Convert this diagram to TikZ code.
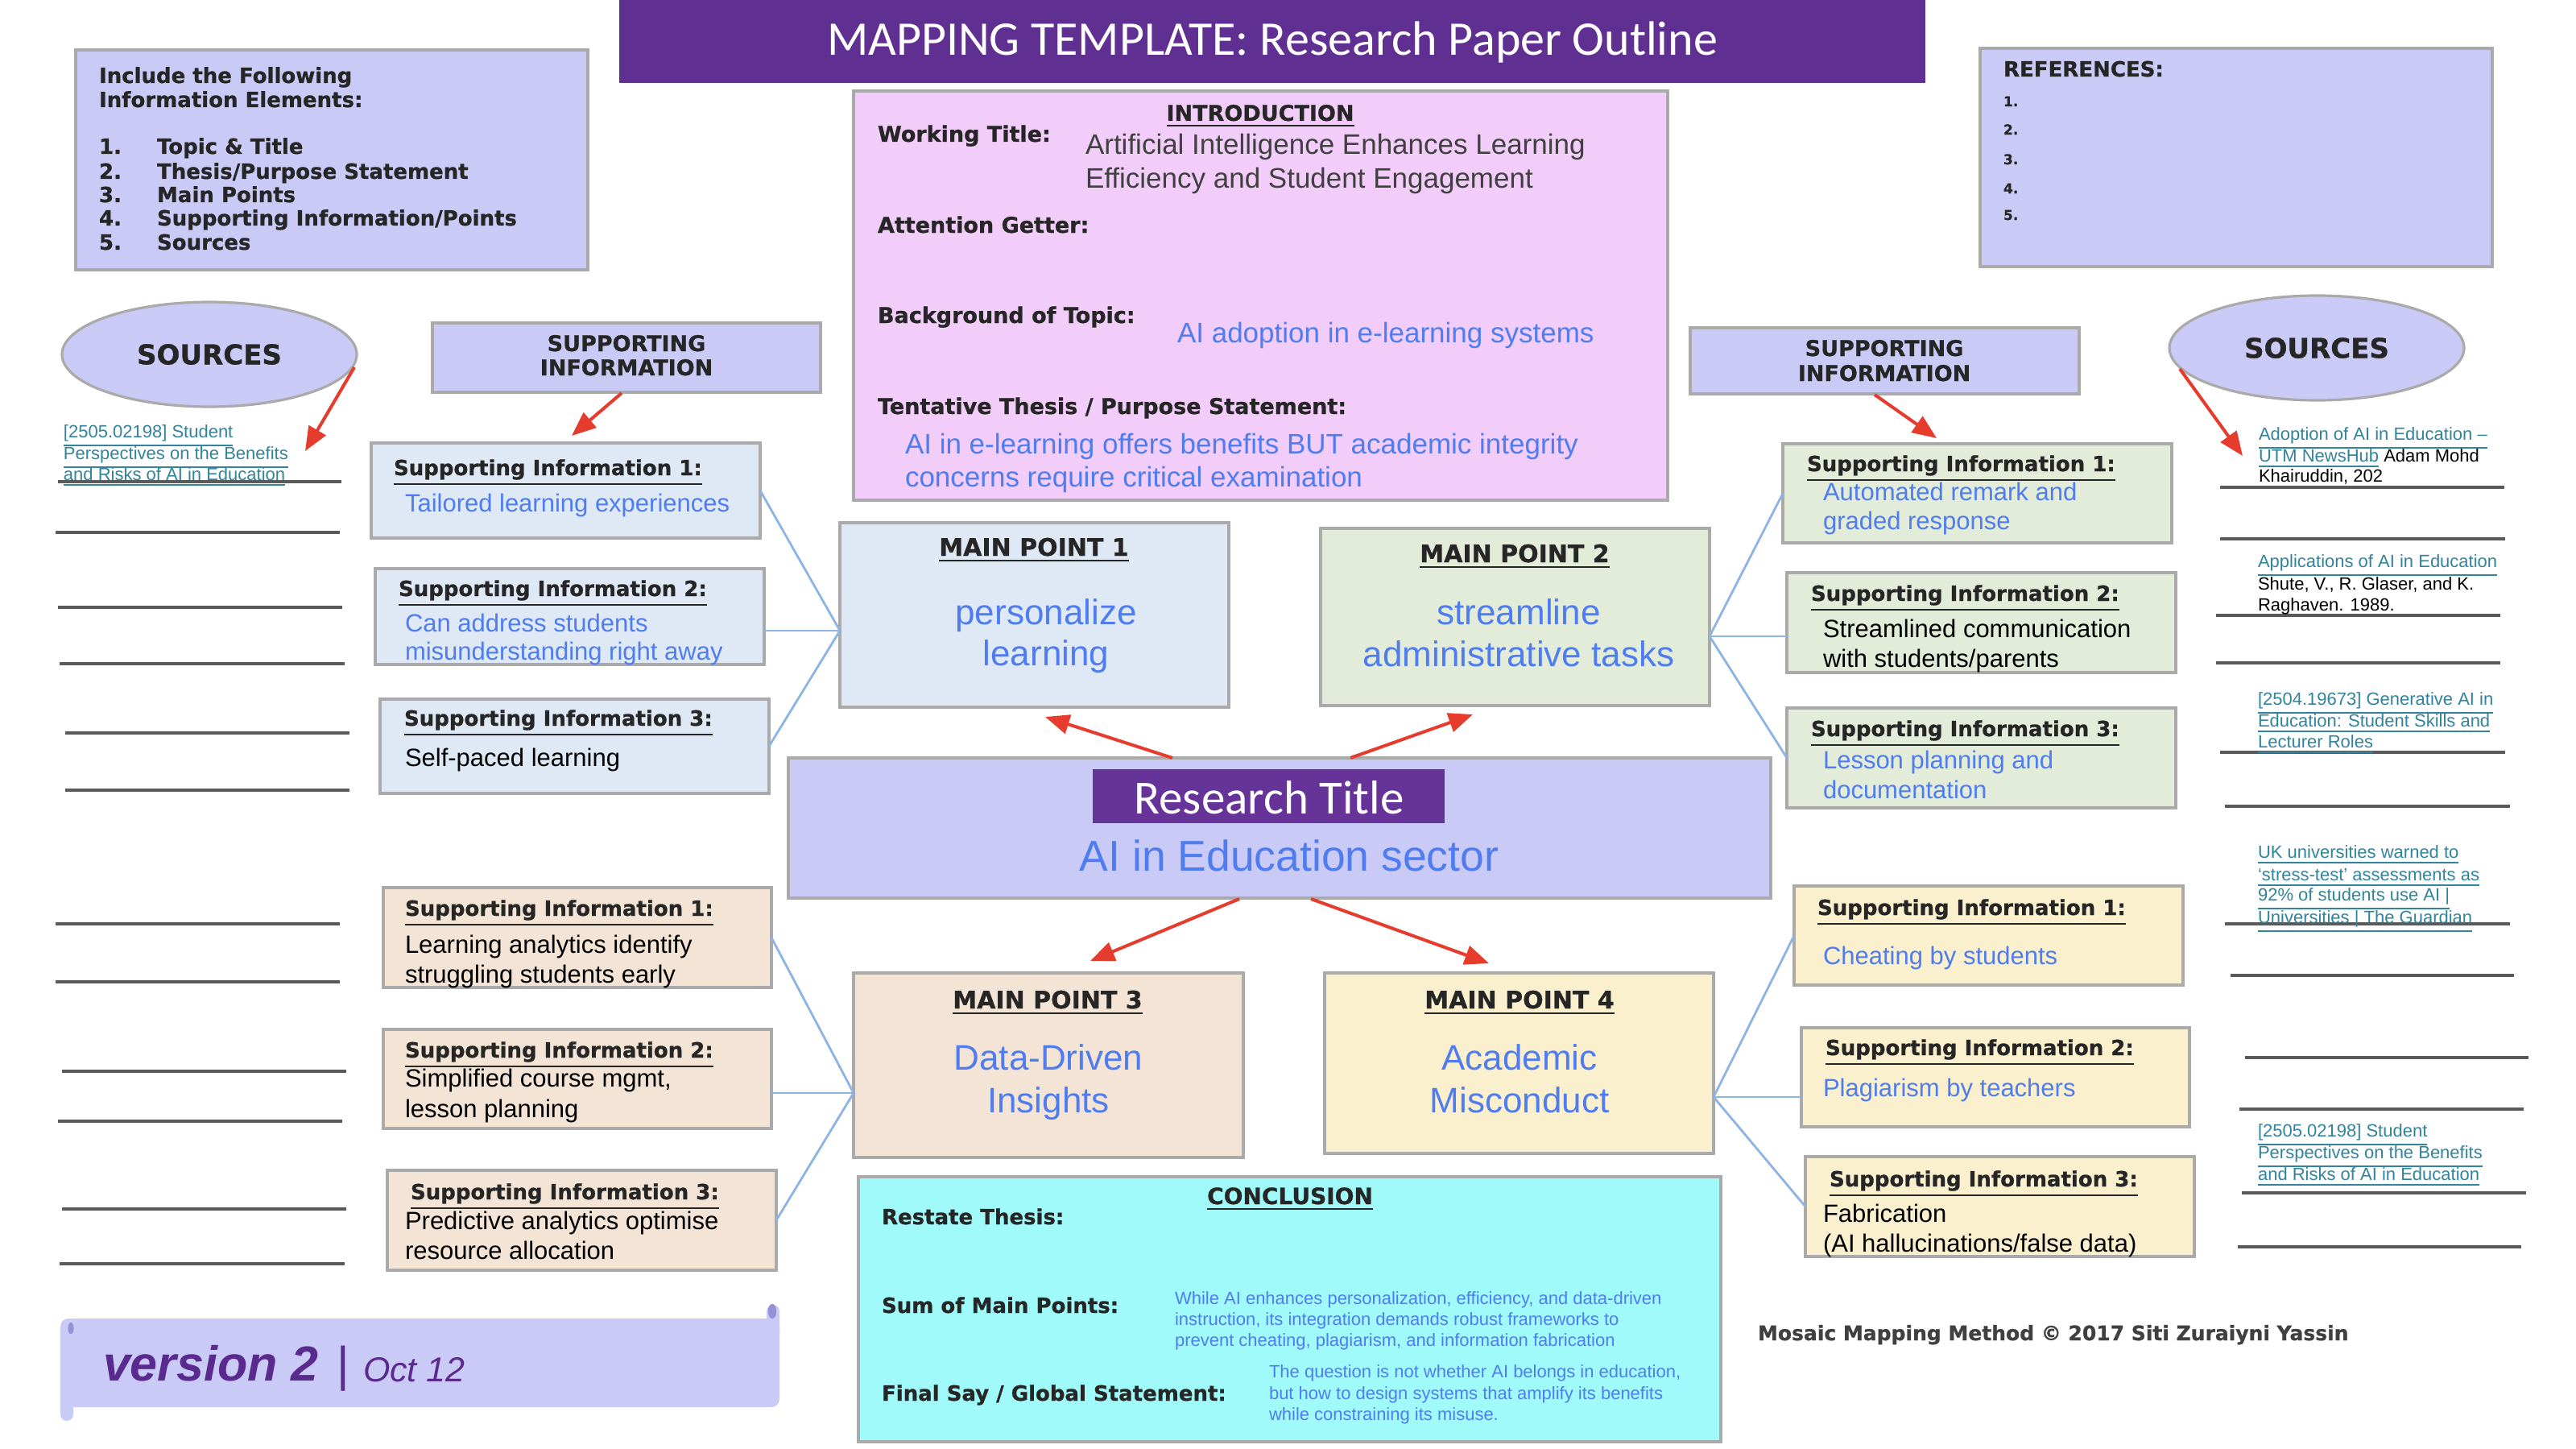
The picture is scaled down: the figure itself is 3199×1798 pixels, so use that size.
\documentclass[tikz,border=0pt]{standalone}
\usepackage{fontspec}
\setmainfont{Liberation Sans}
\newfontfamily\dejavu{DejaVu Sans}[BoldFeatures={FakeBold=0.8}]
\newfontfamily\carlito{Carlito}
\usetikzlibrary{shapes.geometric,arrows.meta,shadows}
\newcommand\fpx[1]{\fontsize{\fpeval{#1/4}pt}{\fpeval{#1*0.3}pt}\selectfont}
\definecolor{lav}{RGB}{202,202,247}
\definecolor{pinkbg}{RGB}{242,205,249}
\definecolor{bluebg}{RGB}{223,232,245}
\definecolor{greenbg}{RGB}{227,236,217}
\definecolor{peachbg}{RGB}{243,228,213}
\definecolor{yellowbg}{RGB}{251,240,206}
\definecolor{cyanbg}{RGB}{160,250,250}
\definecolor{titlepurple}{RGB}{96,47,146}
\definecolor{rtpurple}{RGB}{102,51,153}
\definecolor{txtblue}{RGB}{79,125,240}
\definecolor{linkteal}{RGB}{49,132,155}
\definecolor{arrred}{RGB}{229,60,46}
\definecolor{conblue}{RGB}{142,180,227}
\definecolor{bordgray}{RGB}{170,170,170}
\definecolor{lineg}{RGB}{90,90,90}
\definecolor{darkt}{RGB}{38,38,38}
\definecolor{wtgray}{RGB}{64,64,64}
\definecolor{verpurple}{RGB}{91,42,142}
\definecolor{curl}{RGB}{150,144,212}
\newcommand\bx[7]{\node[bxs,#2,minimum width={(#5-#3)*0.25pt},minimum height={(#6-#4)*0.25pt}] (#1) at (#3,#4) {#7};}
\tikzset{
  bxs/.style={draw=bordgray, line width=0.8pt, inner sep=0pt, outer sep=0pt, anchor=north west,
    drop shadow={shadow xshift=0.5pt, shadow yshift=-0.5pt, opacity=0.25, fill=black}},
  tw/.style={inner sep=0pt, outer sep=0pt, anchor=base west},
  tc/.style={inner sep=0pt, outer sep=0pt, anchor=base},
  hb/.style={font=\dejavu\bfseries\fpx{#1}, text=darkt},
  hb/.default=26,
  bt/.style={font=\fpx{#1}, text=txtblue},
  kt/.style={font=\fpx{#1}, text=black},
  src/.style={tw, font=\fpx{22}, text=linkteal},
  srcline/.style={draw=lineg, line width=1pt},
  conn/.style={draw=conblue, line width=0.7pt},
  arr/.style={draw=arrred, line width=1pt, -{Triangle[length=7.5pt,width=6pt]}},
  srcell/.style={ellipse, draw=bordgray, line width=0.8pt, fill=lav, inner sep=0pt,
    minimum width=366*0.25pt, minimum height=130*0.25pt, font=\dejavu\bfseries\fpx{34}, text=darkt}
}
\begin{document}
\begin{tikzpicture}[x=0.25pt,y=-0.25pt]
\useasboundingbox (0,0) rectangle (3199,1798);
\fill[white] (0,0) rectangle (3199,1798);

% title bar
\node[fill=titlepurple, inner sep=0pt, outer sep=0pt, anchor=north west,
  minimum width={(2391-769)*0.25pt}, minimum height={103*0.25pt}] (titlebar) at (769,0) {};
\node[tc, font=\carlito\fpx{60}, text=white] (titletext) at (1580,69) {MAPPING TEMPLATE: Research Paper Outline};

% include box
\bx{incl}{fill=lav}{94}{62}{730}{335}{}
\node[tw,hb] (inc1) at (123,103) {Include the Following};
\node[tw,hb] (inc2) at (123,133) {Information Elements:};
\node[tw,hb] (n1) at (123,191) {1.}; \node[tw,hb] (i1) at (195,191) {Topic \& Title};
\node[tw,hb] (n2) at (123,222) {2.}; \node[tw,hb] (i2) at (195,222) {Thesis/Purpose Statement};
\node[tw,hb] (n3) at (123,251) {3.}; \node[tw,hb] (i3) at (195,251) {Main Points};
\node[tw,hb] (n4) at (123,280) {4.}; \node[tw,hb] (i4) at (195,280) {Supporting Information/Points};
\node[tw,hb] (n5) at (123,310) {5.}; \node[tw,hb] (i5) at (195,310) {Sources};

% introduction
\bx{intro}{fill=pinkbg}{1060}{113}{2071}{621}{}
\node[tc,hb=27] (introh) at (1565,150) {\underline{INTRODUCTION}};
\node[tw,hb=27] (wt) at (1090,176) {Working Title:};
\node[tw,font=\fpx{35},text=wtgray] (wt1) at (1348,192) {Artificial Intelligence Enhances Learning};
\node[tw,font=\fpx{35},text=wtgray] (wt2) at (1348,234) {Efficiency and Student Engagement};
\node[tw,hb=27] (ag) at (1090,289) {Attention Getter:};
\node[tw,hb=27] (bg) at (1090,401) {Background of Topic:};
\node[tw,bt=35] (bg1) at (1462,425) {AI adoption in e-learning systems};
\node[tw,hb=27] (tt) at (1090,514) {Tentative Thesis / Purpose Statement:};
\node[tw,bt=35] (tt1) at (1124,563) {AI in e-learning offers benefits BUT academic integrity};
\node[tw,bt=35] (tt2) at (1124,604) {concerns require critical examination};

% references
\bx{refs}{fill=lav}{2459}{60}{3095}{331}{}
\node[tw,hb=26] (refh) at (2488,95) {REFERENCES:};
\node[tw,hb=17] (r1) at (2488,132) {1.};
\node[tw,hb=17] (r2) at (2488,167) {2.};
\node[tw,hb=17] (r3) at (2488,204) {3.};
\node[tw,hb=17] (r4) at (2488,240) {4.};
\node[tw,hb=17] (r5) at (2488,273) {5.};

% sources ellipses
\node[srcell] (srcL) at (260,440) {SOURCES};
\node[srcell] (srcR) at (2877,432) {SOURCES};

% supporting information headers
\bx{shL}{fill=lav}{537}{401}{1019}{487}{}
\node[tc,hb=27] (shL1) at (778,436) {SUPPORTING};
\node[tc,hb=27] (shL2) at (778,466) {INFORMATION};
\bx{shR}{fill=lav}{2099}{407}{2582}{489}{}
\node[tc,hb=27] (shR1) at (2340,442) {SUPPORTING};
\node[tc,hb=27] (shR2) at (2340,473) {INFORMATION};

% main points
\bx{mp1}{fill=bluebg}{1043}{649}{1526}{878}{}
\node[tc,hb=30] (mp1h) at (1284,690) {\underline{MAIN POINT 1}};
\node[tc,bt=44] (mp1a) at (1299,775) {personalize};
\node[tc,bt=44] (mp1b) at (1299,826) {learning};
\bx{mp2}{fill=greenbg}{1640}{656}{2123}{876}{}
\node[tc,hb=30] (mp2h) at (1881,698) {\underline{MAIN POINT 2}};
\node[tc,bt=44] (mp2a) at (1886,775) {streamline};
\node[tc,bt=44] (mp2b) at (1886,827) {administrative tasks};
\bx{mp3}{fill=peachbg}{1060}{1208}{1544}{1437}{}
\node[tc,hb=30] (mp3h) at (1301,1252) {\underline{MAIN POINT 3}};
\node[tc,bt=44] (mp3a) at (1302,1328) {Data-Driven};
\node[tc,bt=44] (mp3b) at (1302,1381) {Insights};
\bx{mp4}{fill=yellowbg}{1645}{1208}{2128}{1432}{}
\node[tc,hb=30] (mp4h) at (1887,1252) {\underline{MAIN POINT 4}};
\node[tc,bt=44] (mp4a) at (1887,1328) {Academic};
\node[tc,bt=44] (mp4b) at (1887,1381) {Misconduct};

% research title
\bx{rt}{fill=lav}{979}{941}{2199}{1115}{}
\node[fill=rtpurple, inner sep=0pt, outer sep=0pt, anchor=north west,
  minimum width={437*0.25pt}, minimum height={67*0.25pt}] (rtlab) at (1357,955) {};
\node[tc, font=\carlito\fpx{59}, text=white] (rtt) at (1576,1010) {Research Title};
\node[tc, bt=53.5] (rts) at (1601,1081) {AI in Education sector};

% conclusion
\bx{concl}{fill=cyanbg}{1066}{1461}{2137}{1790}{}
\node[tc,hb=28] (conh) at (1602,1495) {\underline{CONCLUSION}};
\node[tw,hb=26] (rs) at (1095,1520) {Restate Thesis:};
\node[tw,hb=26] (sm) at (1095,1630) {Sum of Main Points:};
\node[tw,hb=26] (fs) at (1095,1739) {Final Say / Global Statement:};
\node[tw,bt=22] (sm1) at (1459,1619) {While AI enhances personalization, efficiency, and data-driven};
\node[tw,bt=22] (sm2) at (1459,1645) {instruction, its integration demands robust frameworks to};
\node[tw,bt=22] (sm3) at (1459,1671) {prevent cheating, plagiarism, and information fabrication};
\node[tw,bt=22] (fs1) at (1576,1710) {The question is not whether AI belongs in education,};
\node[tw,bt=22] (fs2) at (1576,1737) {but how to design systems that amplify its benefits};
\node[tw,bt=22] (fs3) at (1576,1763) {while constraining its misuse.};

% supporting info boxes: MP1
\bx{s11}{fill=bluebg}{461}{550}{944}{668}{}
\node[tw,hb] (s11h) at (489,590) {\underline{Supporting Information 1:}};
\node[tw,bt=31] (s11a) at (503,635) {Tailored learning experiences};
\bx{s12}{fill=bluebg}{466}{706}{949}{825}{}
\node[tw,hb] (s12h) at (495,740) {\underline{Supporting Information 2:}};
\node[tw,bt=31] (s12a) at (503,784) {Can address students};
\node[tw,bt=31] (s12b) at (503,819) {misunderstanding right away};
\bx{s13}{fill=bluebg}{472}{868}{955}{985}{}
\node[tw,hb] (s13h) at (502,901) {\underline{Supporting Information 3:}};
\node[tw,kt=31] (s13a) at (503,951) {Self-paced learning};

% MP2
\bx{s21}{fill=greenbg}{2214}{551}{2697}{674}{}
\node[tw,hb] (s21h) at (2244,585) {\underline{Supporting Information 1:}};
\node[tw,bt=31] (s21a) at (2264,621) {Automated remark and};
\node[tw,bt=31] (s21b) at (2264,657) {graded response};
\bx{s22}{fill=greenbg}{2219}{711}{2702}{835}{}
\node[tw,hb] (s22h) at (2249,746) {\underline{Supporting Information 2:}};
\node[tw,kt=31] (s22a) at (2264,791) {Streamlined communication};
\node[tw,kt=31] (s22b) at (2264,828) {with students/parents};
\bx{s23}{fill=greenbg}{2219}{879}{2702}{1003}{}
\node[tw,hb] (s23h) at (2249,914) {\underline{Supporting Information 3:}};
\node[tw,bt=31] (s23a) at (2264,954) {Lesson planning and};
\node[tw,bt=31] (s23b) at (2264,991) {documentation};

% MP3
\bx{s31}{fill=peachbg}{476}{1102}{958}{1226}{}
\node[tw,hb] (s31h) at (503,1137) {\underline{Supporting Information 1:}};
\node[tw,kt=31] (s31a) at (503,1183) {Learning analytics identify};
\node[tw,kt=31] (s31b) at (503,1220) {struggling students early};
\bx{s32}{fill=peachbg}{476}{1278}{958}{1401}{}
\node[tw,hb] (s32h) at (503,1313) {\underline{Supporting Information 2:}};
\node[tw,kt=31] (s32a) at (503,1349) {Simplified course mgmt,};
\node[tw,kt=31] (s32b) at (503,1387) {lesson planning};
\bx{s33}{fill=peachbg}{481}{1453}{964}{1577}{}
\node[tw,hb] (s33h) at (510,1489) {\underline{Supporting Information 3:}};
\node[tw,kt=31] (s33a) at (503,1526) {Predictive analytics optimise};
\node[tw,kt=31] (s33b) at (503,1563) {resource allocation};

% MP4
\bx{s41}{fill=yellowbg}{2228}{1100}{2711}{1223}{}
\node[tw,hb] (s41h) at (2257,1136) {\underline{Supporting Information 1:}};
\node[tw,bt=31] (s41a) at (2264,1197) {Cheating by students};
\bx{s42}{fill=yellowbg}{2237}{1276}{2719}{1399}{}
\node[tw,hb] (s42h) at (2267,1310) {\underline{Supporting Information 2:}};
\node[tw,bt=31] (s42a) at (2264,1361) {Plagiarism by teachers};
\bx{s43}{fill=yellowbg}{2242}{1436}{2725}{1560}{}
\node[tw,hb] (s43h) at (2272,1473) {\underline{Supporting Information 3:}};
\node[tw,kt=31] (s43a) at (2264,1517) {Fabrication};
\node[tw,kt=31] (s43b) at (2264,1554) {(AI hallucinations/false data)};

% connectors
\coordinate (c1) at (1043,783);
\coordinate (c2) at (2123,790);
\coordinate (c3) at (1060,1357);
\coordinate (c4) at (2128,1362);
\draw[conn] (s11.east) -- (c1);
\draw[conn] (s12.east |- c1) -- (c1);
\draw[conn] (s13.east) -- (c1);
\draw[conn] (s21.west) -- (c2);
\draw[conn] (s22.west |- c2) -- (c2);
\draw[conn] (s23.west) -- (c2);
\draw[conn] (s31.east) -- (c3);
\draw[conn] (s32.east |- c3) -- (c3);
\draw[conn] (s33.east) -- (c3);
\draw[conn] (s41.west) -- (c4);
\draw[conn] (s42.west |- c4) -- (c4);
\draw[conn] (s43.west) -- (c4);

% red arrows
\coordinate (a1s) at (440,456);  \coordinate (a1e) at (379,560);
\coordinate (a2s) at (772,488);  \coordinate (a2e) at (710,541);
\coordinate (a3s) at (2328,490); \coordinate (a3e) at (2405,544);
\coordinate (a4s) at (2707,458); \coordinate (a4e) at (2785,566);
\coordinate (a5s) at (1456,941); \coordinate (a5e) at (1298,890);
\coordinate (a6s) at (1677,941); \coordinate (a6e) at (1829,887);
\coordinate (a7s) at (1539,1116); \coordinate (a7e) at (1354,1193);
\coordinate (a8s) at (1628,1116); \coordinate (a8e) at (1849,1196);
\foreach \i in {1,...,8} {\draw[arr] (a\i s) -- (a\i e);}

% source lines
\foreach \xa/\y/\xb in {72/598/424, 69/661/422, 72/754/425, 74/824/428, 81/910/434, 81/981/434,
  69/1147/422, 69/1219/422, 77/1330/430, 72/1392/425, 77/1501/430, 74/1569/428,
  2757/605/3110, 2757/669/3111, 2752/764/3105, 2752/823/3105, 2757/934/3111, 2763/1001/3117,
  2763/1147/3117, 2770/1211/3122, 2788/1313/3140, 2781/1377/3134, 2784/1481/3137, 2779/1548/3131}
  {\draw[srcline] (\xa,\y) -- (\xb,\y);}

% source texts
\node[src] (sl1) at (79,543) {\underline{[2505.02198] Student}};
\node[src] (sl2) at (79,570) {\underline{Perspectives on the Benefits}};
\node[src] (sl3) at (79,596) {\underline{and Risks of AI in Education}};
\node[src] (sr1) at (2805,546) {\underline{Adoption of AI in Education –}};
\node[src] (sr2) at (2805,573) {\underline{UTM NewsHub} \textcolor{black}{Adam Mohd}};
\node[src,text=black] (sr3) at (2805,598) {Khairuddin, 202};
\node[src] (sr4) at (2804,704) {\underline{Applications of AI in Education}};
\node[src,text=black] (sr5) at (2804,732) {Shute, V., R. Glaser, and K.};
\node[src,text=black] (sr6) at (2804,758) {Raghaven. 1989.};
\node[src] (sr7) at (2804,875) {\underline{[2504.19673] Generative AI in}};
\node[src] (sr8) at (2804,902) {\underline{Education: Student Skills and}};
\node[src] (sr9) at (2804,928) {\underline{Lecturer Roles}};
\node[src] (sr10) at (2804,1065) {\underline{UK universities warned to}};
\node[src] (sr11) at (2804,1093) {\underline{‘stress-test’ assessments as}};
\node[src] (sr12) at (2804,1118) {\underline{92\% of students use AI |}};
\node[src] (sr13) at (2804,1146) {\underline{Universities | The Guardian}};
\node[src] (sr14) at (2804,1411) {\underline{[2505.02198] Student}};
\node[src] (sr15) at (2804,1438) {\underline{Perspectives on the Benefits}};
\node[src] (sr16) at (2804,1465) {\underline{and Risks of AI in Education}};

% credit
\node[tw,hb=25,text=wtgray] (mosaic) at (2183,1664) {Mosaic Mapping Method © 2017 Siti Zuraiyni Yassin};

% version banner
\fill[lav, rounded corners=2pt] (75,1690) rectangle (91,1764);
\fill[lav, rounded corners=2pt] (952,1620) rectangle (968,1665);
\node[fill=lav, rounded corners=2.5pt, inner sep=0pt, outer sep=0pt, anchor=north west,
  minimum width={(968-75)*0.25pt}, minimum height={(1747-1637)*0.25pt}] (banner) at (75,1637) {};
\fill[curl] (959,1628) ellipse (1.3pt and 2.3pt);
\fill[curl] (88,1649) ellipse (0.9pt and 1.8pt);
\node[tw, font=\bfseries\itshape\fpx{61}, text=verpurple] (ver) at (128,1714) {version 2};
\node[tw, font=\fpx{60}, text=verpurple] (bar) at (418,1714) {|};
\node[tw, font=\itshape\fpx{43}, text=verpurple] (oct) at (451,1715) {Oct 12};
\end{tikzpicture}
\end{document}
